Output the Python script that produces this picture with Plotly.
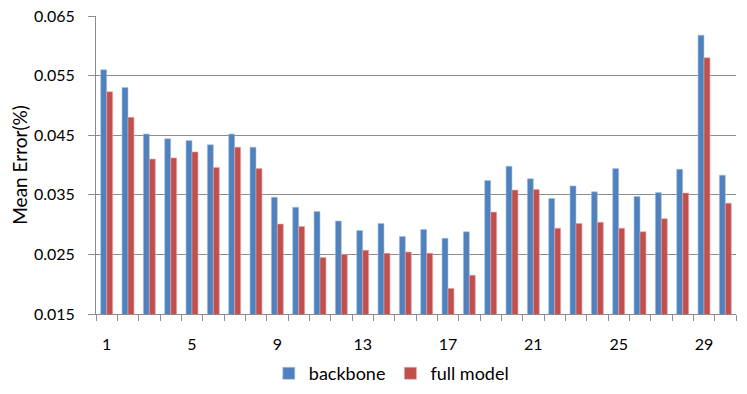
import plotly.graph_objects as go

categories = list(range(1, 31))
backbone = [0.0560, 0.0530, 0.0452, 0.0444, 0.0441, 0.0434, 0.0452, 0.0430, 0.0346, 0.0329,
            0.0322, 0.0306, 0.0290, 0.0302, 0.0280, 0.0292, 0.0277, 0.0288, 0.0374, 0.0398,
            0.0377, 0.0344, 0.0365, 0.0355, 0.0394, 0.0347, 0.0354, 0.0393, 0.0618, 0.0383]
full_model = [0.0523, 0.0480, 0.0410, 0.0412, 0.0422, 0.0396, 0.0430, 0.0394, 0.0301, 0.0297,
              0.0245, 0.0250, 0.0257, 0.0252, 0.0254, 0.0252, 0.0193, 0.0215, 0.0321, 0.0358,
              0.0359, 0.0294, 0.0302, 0.0304, 0.0294, 0.0288, 0.0310, 0.0353, 0.0580, 0.0336]
x_ticks = [1, 5, 9, 13, 17, 21, 25, 29]
y_ticks = [0.015, 0.025, 0.035, 0.045, 0.055, 0.065]

font = "Lato, sans-serif"
grid = "#8c8c8c"

fig = go.Figure()
fig.add_trace(go.Bar(x=categories, y=backbone, name="backbone",
                     marker=dict(color="#4F81BD", line=dict(color="#A9C1E0", width=0.6))))
fig.add_trace(go.Bar(x=categories, y=full_model, name="full model",
                     marker=dict(color="#C0504D", line=dict(color="#E2A9A7", width=0.6))))

# page body adds 8px offset, margins below are in figure coordinates
fig.update_layout(
    width=747, height=394,
    margin=dict(l=88, r=19, t=8, b=88, autoexpand=False),
    plot_bgcolor="white", paper_bgcolor="white",
    font=dict(family=font, size=16, color="black"),
    barmode="group", bargap=0.44, bargroupgap=0,
    legend=dict(orientation="h", x=0.27, xanchor="left", y=-0.2, yanchor="middle",
                font=dict(size=18), itemwidth=30, tracegroupgap=0),
    xaxis=dict(range=[0.5, 30.5], tickmode="array", tickvals=x_ticks,
               ticktext=[str(v) for v in x_ticks], ticks="", ticklabelstandoff=16,
               automargin=False, ticklabeloverflow="allow",
               showline=True, linecolor=grid, linewidth=1, showgrid=False, zeroline=False,
               minor=dict(tickvals=[v + 0.5 for v in range(0, 31)], ticks="outside",
                          ticklen=6, tickcolor=grid, showgrid=False)),
    yaxis=dict(range=[0.015, 0.06501], tickmode="array", tickvals=y_ticks,
               tickformat=".3f", ticks="outside", ticklen=7, tickcolor=grid,
               ticklabelstandoff=10, automargin=False, ticklabeloverflow="allow",
               showline=True, linecolor=grid, linewidth=1,
               showgrid=True, gridcolor=grid, gridwidth=1, zeroline=False,
               title=dict(text="Mean Error(%)", standoff=2, font=dict(size=19))),
)

fig.write_html("out.html")
